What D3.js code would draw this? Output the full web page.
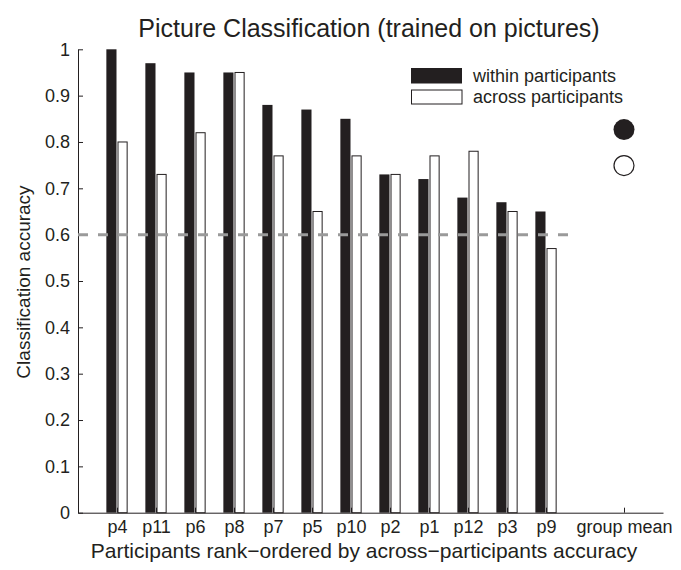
<!DOCTYPE html>
<html>
<head>
<meta charset="utf-8">
<script src="https://cdn.jsdelivr.net/npm/d3@7"></script>
<style>
  html, body { margin: 0; padding: 0; background: #fff; }
  svg { display: block; font-family: "Liberation Sans", Arial, sans-serif; }
</style>
</head>
<body>
<svg id="chart" width="681" height="570"></svg>
<script>
// ---- data ----
const participants = ["p4","p11","p6","p8","p7","p5","p10","p2","p1","p12","p3","p9"];
const withinAcc = [1.00,0.97,0.95,0.95,0.88,0.87,0.85,0.73,0.72,0.68,0.67,0.65];
const acrossAcc = [0.80,0.73,0.82,0.95,0.77,0.65,0.77,0.73,0.77,0.78,0.65,0.57];
const groupLabel = "group mean";
const yTicks = [0,0.1,0.2,0.3,0.4,0.5,0.6,0.7,0.8,0.9,1];
const yTickLabels = ["0","0.1","0.2","0.3","0.4","0.5","0.6","0.7","0.8","0.9","1"];
const chanceLevel = 0.6;
const legendLabels = ["within participants","across participants"];
const titleText = "Picture Classification (trained on pictures)";
const xTitle = "Participants rank\u2212ordered by across\u2212participants accuracy";
const yTitle = "Classification accuracy";

const groupWithin = d3.mean(withinAcc);
const groupAcross = d3.mean(acrossAcc);

// ---- layout ----
const svg = d3.select("#chart");
const n = participants.length;
const groupPos = n + 2;
const x = d3.scaleLinear().domain([0, n + 3]).range([78, 663]);
const y = d3.scaleLinear().domain([0, 1]).range([512.7, 49.3]);
const unit = x(1) - x(0);
const barW = unit * 0.26;
const ink = "#231f20";
const ff = "Liberation Sans, Arial, sans-serif";

// x axis
const xTickVals = d3.range(1, n + 1).concat([groupPos]);
const xTickText = participants.concat([groupLabel]);
const xAxis = d3.axisBottom(x).tickValues(xTickVals).tickSize(-5).tickSizeOuter(0)
  .tickFormat((d, i) => xTickText[i]);
const gx = svg.append("g").attr("transform", `translate(0,${y(0)})`).call(xAxis);
gx.select(".domain").attr("stroke", ink);
gx.selectAll(".tick line").attr("stroke", ink);
gx.selectAll(".tick text").attr("font-size", 18).attr("fill", ink)
  .attr("y", 20).attr("dy", 0).attr("font-family", ff);

// y axis
const yAxis = d3.axisLeft(y).tickValues(yTicks).tickSize(-5).tickSizeOuter(0)
  .tickFormat((d, i) => yTickLabels[i]);
const gy = svg.append("g").attr("transform", `translate(${x(0)},0)`).call(yAxis);
gy.select(".domain").attr("stroke", ink);
gy.selectAll(".tick line").attr("stroke", ink);
gy.selectAll(".tick text").attr("font-size", 18).attr("fill", ink).attr("x", -8)
  .attr("font-family", ff);

// bars
const bars = svg.append("g");
bars.selectAll("rect.within").data(withinAcc).join("rect")
  .attr("class", "within")
  .attr("x", (d, i) => x(i + 1) - barW - 0.5)
  .attr("y", d => y(d))
  .attr("width", barW)
  .attr("height", d => y(0) - y(d))
  .attr("fill", ink);
bars.selectAll("rect.across").data(acrossAcc).join("rect")
  .attr("class", "across")
  .attr("x", (d, i) => x(i + 1) + 1)
  .attr("y", d => y(d))
  .attr("width", barW - 1)
  .attr("height", d => y(0) - y(d))
  .attr("fill", "#fff")
  .attr("stroke", ink)
  .attr("stroke-width", 1);

// chance line
svg.append("line")
  .attr("x1", x(0)).attr("x2", x(n + 0.7))
  .attr("y1", y(chanceLevel)).attr("y2", y(chanceLevel))
  .attr("stroke", "#9a9a9a").attr("stroke-width", 3)
  .attr("stroke-dasharray", "10,10");

// group means
svg.append("circle").attr("cx", x(groupPos)).attr("cy", y(groupWithin)).attr("r", 10.5)
  .attr("fill", ink);
svg.append("circle").attr("cx", x(groupPos)).attr("cy", y(groupAcross)).attr("r", 10)
  .attr("fill", "#fff").attr("stroke", ink).attr("stroke-width", 1.2);

// legend
const leg = svg.append("g");
leg.append("rect").attr("x", 411).attr("y", 68).attr("width", 51).attr("height", 15.5).attr("fill", ink);
leg.append("rect").attr("x", 411.5).attr("y", 90).attr("width", 50.5).attr("height", 14)
  .attr("fill", "#fff").attr("stroke", ink).attr("stroke-width", 1);
leg.selectAll("text").data(legendLabels).join("text")
  .attr("x", 473).attr("y", (d, i) => 82 + i * 21)
  .attr("font-size", 18).attr("fill", ink).text(d => d);

// titles
svg.append("text").attr("x", 369).attr("y", 37).attr("text-anchor", "middle")
  .attr("font-size", 25).attr("fill", ink).text(titleText);
svg.append("text").attr("x", 364).attr("y", 558).attr("text-anchor", "middle")
  .attr("font-size", 21).attr("fill", ink).text(xTitle);
svg.append("text").attr("transform", "translate(30,282) rotate(-90)").attr("text-anchor", "middle")
  .attr("font-size", 19).attr("fill", ink).text(yTitle);
</script>
</body>
</html>
